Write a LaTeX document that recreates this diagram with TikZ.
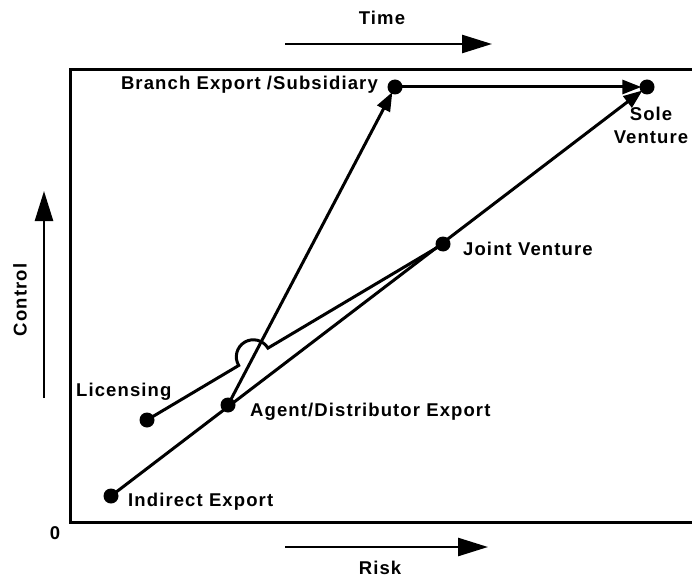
\documentclass[tikz,border=0pt]{standalone}
\usepackage{fontspec}
\setmainfont{Liberation Sans}[LetterSpace=6]
\usetikzlibrary{arrows.meta,calc}
\begin{document}
\begin{tikzpicture}[x=1pt,y=1pt,
  lbl/.style={font=\fontsize{18.5}{21}\selectfont\bfseries, inner sep=0pt},
  dot/.style={circle, fill=black, inner sep=0pt, minimum size=15pt},
  link/.style={line width=3pt, -{Triangle[length=19pt,width=14pt]}, shorten >=-2pt},
  plain/.style={line width=3pt},
  axisarrow/.style={line width=2.6pt, -{Triangle[length=30pt,width=18pt]}}]
\useasboundingbox (0,0) rectangle (692,579);
% frame (right side runs off the page)
\draw[line width=3pt] (720,509) -- (70,509) -- (70,57) -- (720,57);
% entry modes
\node[dot] (I) at (111,83) {};
\node[dot] (L) at (147,159) {};
\node[dot] (A) at (228,174) {};
\node[dot] (J) at (443,335) {};
\node[dot] (B) at (395,492) {};
\node[dot] (S) at (647,492) {};
% labels
\node[lbl, anchor=west] (tI) at (128,77) {Indirect Export};
\node[lbl, anchor=west] (tL) at (76,187) {Licensing};
\node[lbl, anchor=west] (tA) at (250,167) {Agent/Distributor Export};
\node[lbl, anchor=west] (tJ) at (463,330) {Joint Venture};
\node[lbl, anchor=east] (tB) at (378,494) {Branch Export /Subsidiary};
\node[lbl, align=center] (tS) at (651,454) {Sole\\[2pt]Venture};
% paths between modes
\draw[link] (I.center) -- (S);
\draw[link] (A.center) -- (B);
\draw[link] (B.center) -- (S);
% licensing line hops over the agent-to-branch line
\coordinate (X) at (intersection of L--J and A--B);
\draw[plain] let \p1=($(J)-(L)$), \n1={atan2(\y1,\x1)} in
  (L.center) -- ($(X)!17pt!(L)$)
  arc[start angle=\n1+180, end angle=\n1, radius=17pt] -- (J.center);
% axes
\node[lbl] (zero) at (55,46) {0};
\coordinate (t0) at (285,535);
\coordinate (t1) at (492,535);
\draw[axisarrow] (t0) -- (t1);
\node[lbl] (time) at (382,561) {Time};
\coordinate (r0) at (285,32);
\coordinate (r1) at (488,32);
\draw[axisarrow] (r0) -- (r1);
\node[lbl] (risk) at (380,11) {Risk};
\coordinate (c0) at (44,181);
\coordinate (c1) at (44,388);
\draw[axisarrow] (c0) -- (c1);
\node[lbl, rotate=90] (ctrl) at (20,279) {Control};
\end{tikzpicture}
\end{document}
